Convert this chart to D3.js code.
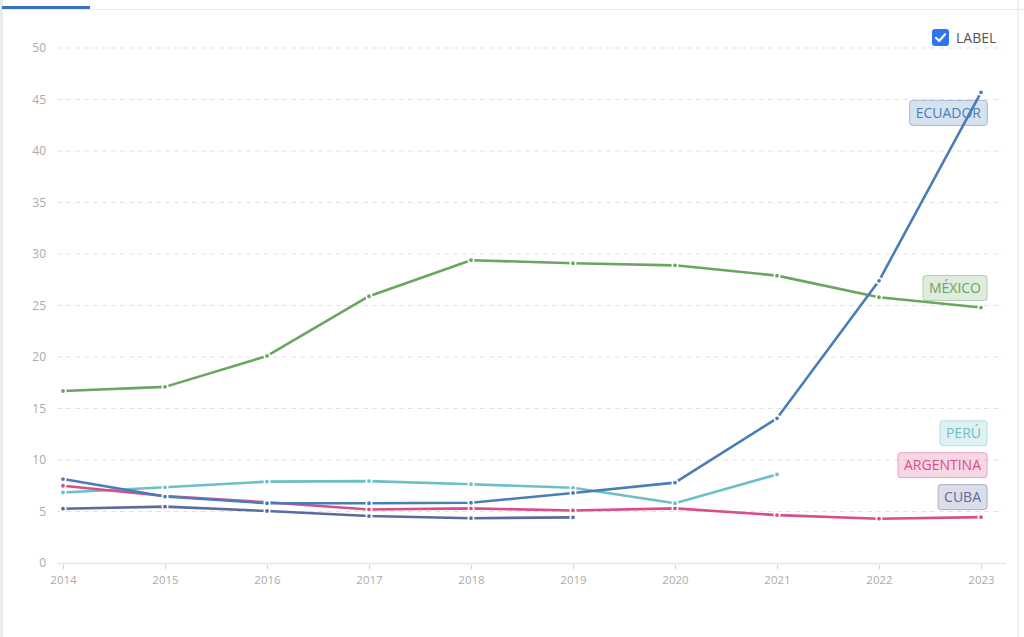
<!DOCTYPE html>
<html>
<head>
<meta charset="utf-8">
<script src="https://cdn.jsdelivr.net/npm/d3@7"></script>
<style>
  body { margin: 0; background: #fff; font-family: "Open Sans", sans-serif; }
  svg { display: block; }
</style>
</head>
<body>
<script>
// chart data
const years = [2014, 2015, 2016, 2017, 2018, 2019, 2020, 2021, 2022, 2023];
const yTicks = [0, 5, 10, 15, 20, 25, 30, 35, 40, 45, 50];

const countries = ['ECUADOR', 'MÉXICO', 'PERÚ', 'ARGENTINA', 'CUBA'];
const ecuador   = [8.15, 6.45, 5.8, 5.8, 5.85, 6.8, 7.8, 14.05, 27.4, 45.7];
const mexico    = [16.7, 17.1, 20.1, 25.9, 29.4, 29.1, 28.9, 27.9, 25.8, 24.8];
const peru      = [6.85, 7.35, 7.9, 7.95, 7.65, 7.3, 5.8, 8.6, null, null];
const argentina = [7.5, 6.5, 5.9, 5.2, 5.3, 5.1, 5.3, 4.65, 4.3, 4.45];
const cuba      = [5.27, 5.47, 5.05, 4.56, 4.35, 4.43, null, null, null, null];

const colors = ['#4a7db7', '#6aa562', '#6dbfc7', '#d84e8a', '#5b6b9e'];
// where the end labels sit (value units), after the overlap shuffle
const labelAt = [43.7, 26.7, 12.6, 9.5, 6.4];

let series = countries.map(function(name, i) {
    return {name: name, color: colors[i], values: [ecuador, mexico, peru, argentina, cuba][i]};
});

let W = 1024, H = 637;

let svg = d3.select('body').append('svg')
    .attr('width', W)
    .attr('height', H);

// frame bits (tab strip + borders)
svg.append('rect').attr('x', 0).attr('y', 0).attr('width', 3).attr('height', H).attr('fill', '#e9edf2');
svg.append('rect').attr('x', 1017).attr('y', 0).attr('width', 2).attr('height', H).attr('fill', '#eef1f4');
svg.append('rect').attr('x', 0).attr('y', 9).attr('width', W).attr('height', 1).attr('fill', '#e6eaef');
svg.append('rect').attr('x', 2).attr('y', 6).attr('width', 88).attr('height', 3).attr('fill', '#3a72c0');

let xScale = d3.scaleLinear()
    .domain([2014, 2023])
    .range([63, 981]);

let yScale = d3.scaleLinear()
    .domain([0, 50])
    .range([563, 48]);

// grid
svg.append('g')
    .selectAll('line')
    .data(yTicks.filter(function(d) { return d > 0; }))
  .enter().append('line')
    .attr('x1', 57)
    .attr('x2', 1003)
    .attr('y1', function(d) { return yScale(d); })
    .attr('y2', function(d) { return yScale(d); })
    .attr('stroke', '#e3e3e3')
    .attr('stroke-dasharray', '5,4');

let yAxis = d3.axisLeft(yScale).tickValues(yTicks).tickSize(0).tickPadding(0);
let gy = svg.append('g')
    .attr('transform', 'translate(46,0)')
    .call(yAxis);
gy.select('.domain').remove();
gy.selectAll('text')
    .attr('fill', '#ababab')
    .style('font-family', '"Open Sans", sans-serif')
    .style('font-size', '12px');

let xAxis = d3.axisBottom(xScale).tickValues(years).tickFormat(d3.format('d')).tickSize(5).tickPadding(8);
let gx = svg.append('g')
    .attr('transform', 'translate(0,' + 563 + ')')
    .call(xAxis);
gx.select('.domain').attr('d', 'M57,0.5H1006').attr('stroke', '#e4e6ea').attr('stroke-width', 1.5);
gx.selectAll('.tick line').attr('stroke', '#d0d0d0').attr('y1', 2).attr('y2', 6);
gx.selectAll('text')
    .attr('fill', '#ababab')
    .style('font-family', '"Open Sans", sans-serif')
    .style('font-size', '11.5px');

let line = d3.line()
    .defined(function(d) { return d != null; })
    .x(function(d, i) { return xScale(years[i]); })
    .y(function(d) { return yScale(d); });

// draw back to front so Ecuador ends on top
let order = [1, 2, 4, 3, 0];
order.forEach(function(k) {
    let s = series[k];
    let g = svg.append('g');
    g.append('path')
        .attr('d', line(s.values))
        .attr('fill', 'none')
        .attr('stroke', s.color)
        .attr('stroke-width', 2.6)
        .attr('stroke-linejoin', 'round');
    g.selectAll('circle')
        .data(s.values.map(function(v, i) { return {v: v, year: years[i]}; }).filter(function(d) { return d.v != null; }))
      .enter().append('circle')
        .attr('cx', function(d) { return xScale(d.year); })
        .attr('cy', function(d) { return yScale(d.v); })
        .attr('r', 2.7)
        .attr('fill', s.color)
        .attr('stroke', '#fff')
        .attr('stroke-width', 1.6);
});

// end labels, right aligned
series.forEach(function(s, i) {
    let g = svg.append('g');
    let t = g.append('text')
        .attr('x', 981)
        .attr('y', yScale(labelAt[i]))
        .attr('dy', '0.35em')
        .attr('text-anchor', 'end')
        .attr('fill', s.color)
        .style('font-family', '"Open Sans", sans-serif')
        .style('font-size', '14px')
        .text(s.name);
    let bb = t.node().getBBox();
    g.insert('rect', 'text')
        .attr('x', bb.x - 6)
        .attr('y', yScale(labelAt[i]) - 12.5)
        .attr('width', bb.width + 12)
        .attr('height', 25)
        .attr('rx', 3)
        .attr('fill', s.color)
        .attr('fill-opacity', 0.22)
        .attr('stroke', s.color)
        .attr('stroke-opacity', 0.45);
});

// LABEL toggle
let cb = svg.append('g').attr('transform', 'translate(932,29)');
cb.append('rect')
    .attr('width', 17)
    .attr('height', 17)
    .attr('rx', 3)
    .attr('fill', '#2f74f0');
cb.append('path')
    .attr('d', 'M4,8.8 L7.2,12 L13,5.2')
    .attr('fill', 'none')
    .attr('stroke', '#fff')
    .attr('stroke-width', 2.2)
    .attr('stroke-linecap', 'round')
    .attr('stroke-linejoin', 'round');
svg.append('text')
    .attr('x', 956)
    .attr('y', 38)
    .attr('dy', '0.35em')
    .attr('fill', '#555')
    .style('font-family', '"Open Sans", sans-serif')
    .style('font-size', '14px')
    .text('LABEL');
</script>
</body>
</html>
